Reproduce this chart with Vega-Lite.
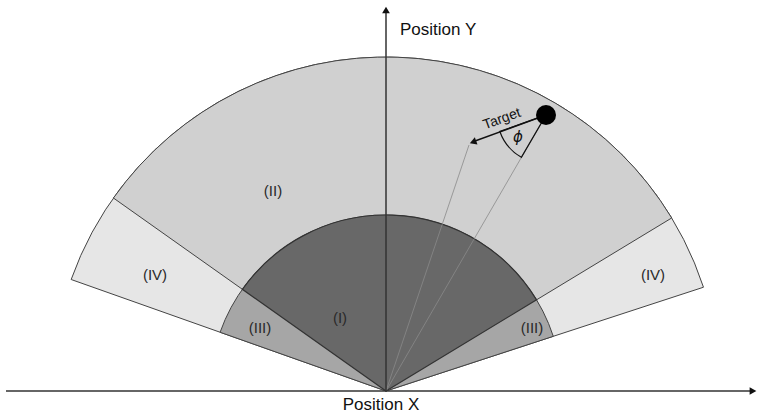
{
  "$schema": "https://vega.github.io/schema/vega-lite/v6.json",
  "width": 757,
  "height": 419,
  "padding": 0,
  "autosize": "none",
  "background": "white",
  "config": {"view": {"stroke": null}, "axis": {"disable": true, "grid": false, "domain": false, "ticks": false, "labels": false, "title": null}},
  "datasets": {
    "sectors": [
      {"region": "IV", "cx": 0, "cy": 0, "t1": -70.5, "t2": 71.9, "rin": 0, "rout": 334},
      {"region": "II", "cx": 0, "cy": 0, "t1": -54.7, "t2": 58.8, "rin": 0, "rout": 334},
      {"region": "III", "cx": 0, "cy": 0, "t1": -70.5, "t2": 71.9, "rin": 0, "rout": 176},
      {"region": "I", "cx": 0, "cy": 0, "t1": -54.7, "t2": 58.8, "rin": 0, "rout": 176}
    ],
    "rays": [
      {"x": 0, "y": 0, "x2": 83, "y2": 246},
      {"x": 0, "y": 0, "x2": 160, "y2": 276}
    ],
    "axes": [
      {"x": -380, "y": 0, "x2": 368, "y2": 0},
      {"x": 0, "y": 0, "x2": 0, "y2": 380}
    ],
    "heads": [
      {"name": "x", "x": 367, "y": 0, "ang": 90},
      {"name": "y", "x": 0, "y": 381, "ang": 0},
      {"name": "target", "x": 87, "y": 249, "ang": 250}
    ],
    "target": [
      {"x": 160, "y": 276, "x2": 89, "y2": 250}
    ],
    "phi": [
      {"cx": 160, "cy": 276, "t1": -149.8, "t2": -109.6, "r": 49}
    ],
    "dot": [
      {"x": 160, "y": 276}
    ],
    "regionLabels": [
      {"label": "(II)", "x": -113, "y": 200},
      {"label": "(IV)", "x": -231, "y": 116},
      {"label": "(IV)", "x": 267, "y": 116},
      {"label": "(III)", "x": -126, "y": 63},
      {"label": "(III)", "x": 146, "y": 63},
      {"label": "(I)", "x": -46, "y": 73}
    ]
  },
  "layer": [
    {
      "data": {"name": "sectors"},
      "transform": [{"filter": "datum.region === 'IV'"}],
      "mark": {"type": "arc", "stroke": "#444", "strokeWidth": 1},
      "encoding": {
        "x": {"field": "cx", "type": "quantitative", "axis": null, "scale": {"domain": [-386, 371], "nice": false, "zero": false}},
        "y": {"field": "cy", "type": "quantitative", "axis": null, "scale": {"domain": [-28, 391], "nice": false, "zero": false}},
        "theta": {"field": "t1", "type": "quantitative", "stack": null, "scale": {"type": "linear", "domain": [0, 360], "range": [0, 6.283185307], "zero": false, "nice": false}},
        "theta2": {"field": "t2"},
        "radius": {"field": "rout", "type": "quantitative", "scale": {"type": "linear", "domain": [0, 400], "range": [0, 400], "zero": true, "nice": false}},
        "radius2": {"field": "rin"},
        "color": {"field": "region", "type": "nominal", "legend": null, "scale": {"domain": ["I", "II", "III", "IV"], "range": ["#686868", "#d0d0d0", "#a6a6a6", "#e6e6e6"]}}
      }
    },
    {
      "data": {"name": "sectors"},
      "transform": [{"filter": "datum.region === 'II'"}],
      "mark": {"type": "arc", "stroke": "#444", "strokeWidth": 1},
      "encoding": {
        "x": {"field": "cx", "type": "quantitative", "axis": null},
        "y": {"field": "cy", "type": "quantitative", "axis": null},
        "theta": {"field": "t1", "type": "quantitative", "stack": null},
        "theta2": {"field": "t2"},
        "radius": {"field": "rout", "type": "quantitative"},
        "radius2": {"field": "rin"},
        "color": {"field": "region", "type": "nominal", "legend": null}
      }
    },
    {
      "data": {"name": "sectors"},
      "transform": [{"filter": "datum.region === 'III'"}],
      "mark": {"type": "arc", "stroke": "#444", "strokeWidth": 1},
      "encoding": {
        "x": {"field": "cx", "type": "quantitative", "axis": null},
        "y": {"field": "cy", "type": "quantitative", "axis": null},
        "theta": {"field": "t1", "type": "quantitative", "stack": null},
        "theta2": {"field": "t2"},
        "radius": {"field": "rout", "type": "quantitative"},
        "radius2": {"field": "rin"},
        "color": {"field": "region", "type": "nominal", "legend": null}
      }
    },
    {
      "data": {"name": "sectors"},
      "transform": [{"filter": "datum.region === 'I'"}],
      "mark": {"type": "arc", "stroke": "#333", "strokeWidth": 1.2},
      "encoding": {
        "x": {"field": "cx", "type": "quantitative", "axis": null},
        "y": {"field": "cy", "type": "quantitative", "axis": null},
        "theta": {"field": "t1", "type": "quantitative", "stack": null},
        "theta2": {"field": "t2"},
        "radius": {"field": "rout", "type": "quantitative"},
        "radius2": {"field": "rin"},
        "color": {"field": "region", "type": "nominal", "legend": null}
      }
    },
    {
      "data": {"name": "rays"},
      "mark": {"type": "rule", "color": "#8a8a8a", "strokeWidth": 0.8},
      "encoding": {
        "x": {"field": "x", "type": "quantitative", "axis": null},
        "y": {"field": "y", "type": "quantitative", "axis": null},
        "x2": {"field": "x2"},
        "y2": {"field": "y2"}
      }
    },
    {
      "data": {"name": "axes"},
      "mark": {"type": "rule", "color": "#333", "strokeWidth": 1.5},
      "encoding": {
        "x": {"field": "x", "type": "quantitative", "axis": null},
        "y": {"field": "y", "type": "quantitative", "axis": null},
        "x2": {"field": "x2"},
        "y2": {"field": "y2"}
      }
    },
    {
      "data": {"name": "target"},
      "mark": {"type": "rule", "color": "#111", "strokeWidth": 1.5},
      "encoding": {
        "x": {"field": "x", "type": "quantitative", "axis": null},
        "y": {"field": "y", "type": "quantitative", "axis": null},
        "x2": {"field": "x2"},
        "y2": {"field": "y2"}
      }
    },
    {
      "data": {"name": "heads"},
      "mark": {"type": "point", "shape": "triangle-up", "filled": true, "color": "#111", "size": 60, "opacity": 1},
      "encoding": {
        "x": {"field": "x", "type": "quantitative", "axis": null},
        "y": {"field": "y", "type": "quantitative", "axis": null},
        "angle": {"field": "ang", "type": "quantitative", "scale": null}
      }
    },
    {
      "data": {"name": "phi"},
      "mark": {"type": "arc", "fill": null, "filled": false, "stroke": "#111", "strokeWidth": 1.2},
      "encoding": {
        "x": {"field": "cx", "type": "quantitative", "axis": null},
        "y": {"field": "cy", "type": "quantitative", "axis": null},
        "theta": {"field": "t1", "type": "quantitative", "stack": null},
        "theta2": {"field": "t2"},
        "radius": {"field": "r", "type": "quantitative"}
      }
    },
    {
      "data": {"name": "dot"},
      "mark": {"type": "point", "shape": "circle", "filled": true, "color": "#000", "size": 400, "opacity": 1},
      "encoding": {
        "x": {"field": "x", "type": "quantitative", "axis": null},
        "y": {"field": "y", "type": "quantitative", "axis": null}
      }
    },
    {
      "data": {"name": "regionLabels"},
      "mark": {"type": "text", "font": "Liberation Sans", "fontSize": 15, "fill": "#2a2a2a", "align": "center", "baseline": "middle"},
      "encoding": {
        "x": {"field": "x", "type": "quantitative", "axis": null},
        "y": {"field": "y", "type": "quantitative", "axis": null},
        "text": {"field": "label"}
      }
    },
    {
      "data": {"values": [{"label": "Target", "x": 116, "y": 272}]},
      "mark": {"type": "text", "font": "Liberation Sans", "fontSize": 14, "fill": "#111", "align": "center", "baseline": "middle", "angle": -20},
      "encoding": {
        "x": {"field": "x", "type": "quantitative", "axis": null},
        "y": {"field": "y", "type": "quantitative", "axis": null},
        "text": {"field": "label"}
      }
    },
    {
      "data": {"values": [{"label": "ϕ", "x": 132, "y": 254}]},
      "mark": {"type": "text", "font": "DejaVu Sans", "fontSize": 15, "fontStyle": "italic", "fill": "#111", "align": "center", "baseline": "middle"},
      "encoding": {
        "x": {"field": "x", "type": "quantitative", "axis": null},
        "y": {"field": "y", "type": "quantitative", "axis": null},
        "text": {"field": "label"}
      }
    },
    {
      "data": {"values": [{"label": "Position Y", "x": 14, "y": 361}]},
      "mark": {"type": "text", "font": "Liberation Sans", "fontSize": 17, "fill": "#111", "align": "left", "baseline": "middle"},
      "encoding": {
        "x": {"field": "x", "type": "quantitative", "axis": null},
        "y": {"field": "y", "type": "quantitative", "axis": null},
        "text": {"field": "label"}
      }
    },
    {
      "data": {"values": [{"label": "Position X", "x": -5, "y": -14}]},
      "mark": {"type": "text", "font": "Liberation Sans", "fontSize": 17, "fill": "#111", "align": "center", "baseline": "middle"},
      "encoding": {
        "x": {"field": "x", "type": "quantitative", "axis": null},
        "y": {"field": "y", "type": "quantitative", "axis": null},
        "text": {"field": "label"}
      }
    }
  ]
}
